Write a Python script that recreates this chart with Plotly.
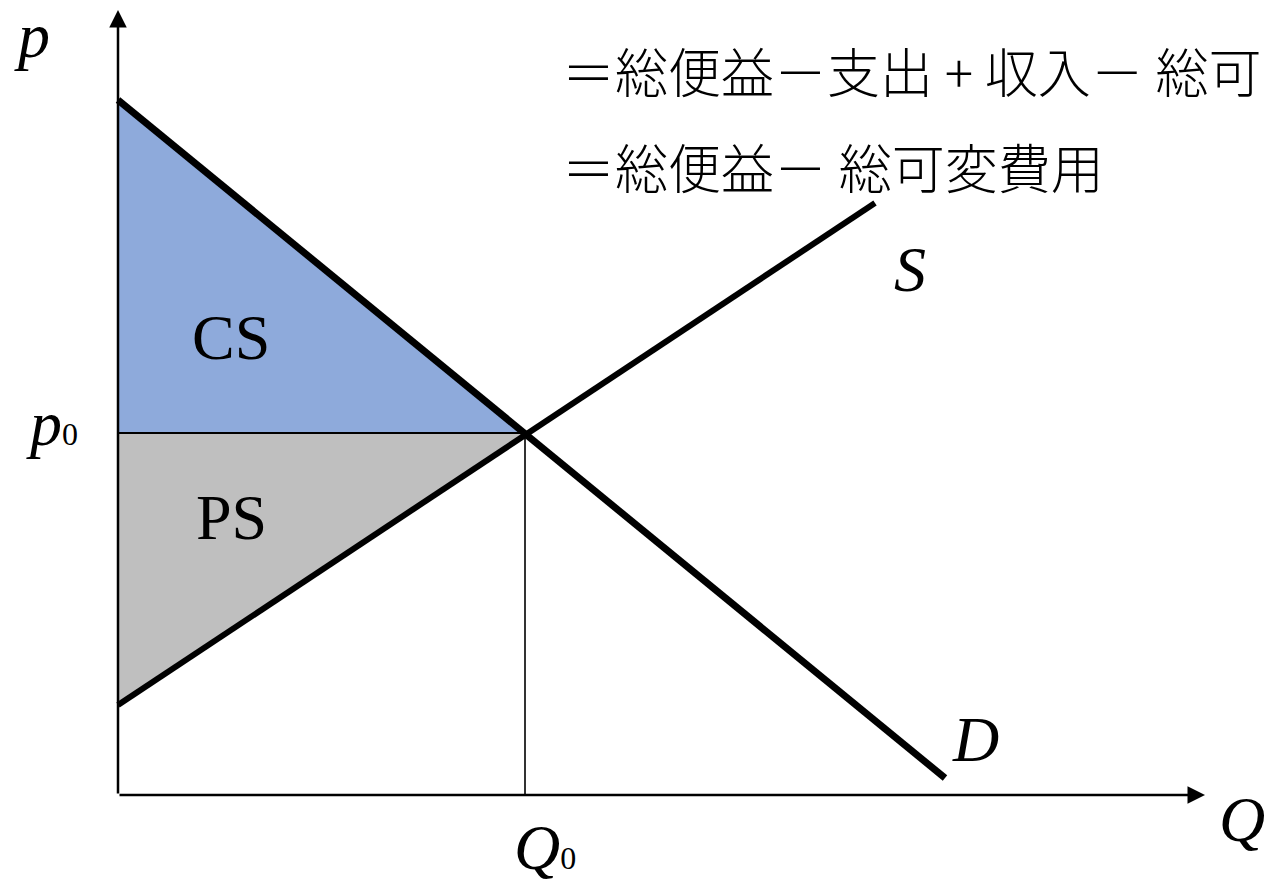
import plotly.graph_objects as go

"""
Supply/demand diagram with consumer surplus (CS) and producer surplus (PS).
One data unit = 100 px on the 1274x882 canvas, origin at the axes corner.
"""

# demand and supply curves (Q, p)
demand_q = [0.0, 8.27]
demand_p = [6.95, 0.17]
supply_q = [0.0, 7.57]
supply_p = [0.90, 5.92]

# equilibrium
q0 = 4.07
p0 = 3.62

# axis ends
q_max = 10.87
p_max = 7.85

# labels (first line is cut at the right edge in the original)
jp_lines = ["＝総便益－支出 + 収入－ 総可", "＝総便益－ 総可変費用"]

SERIF = "Liberation Serif, Times New Roman, serif"
JP = "Noto Sans CJK JP, sans-serif"


def main():
    fig = go.Figure()

    # CS triangle (blue) and PS triangle (grey)
    fig.add_trace(go.Scatter(
        x=[0, 0, q0, 0], y=[demand_p[0], p0, p0, demand_p[0]],
        fill='toself', fillcolor='#8eaadb', mode='none', hoverinfo='skip'))
    fig.add_trace(go.Scatter(
        x=[0, 0, q0, 0], y=[p0, supply_p[0], p0, p0],
        fill='toself', fillcolor='#bfbfbf', mode='none', hoverinfo='skip'))

    # p0 and Q0 guide lines
    fig.add_trace(go.Scatter(x=[0, q0], y=[p0, p0], mode='lines',
                             line=dict(color='black', width=2)))
    fig.add_trace(go.Scatter(x=[q0, q0], y=[0, p0], mode='lines',
                             line=dict(color='#333333', width=2)))

    # demand and supply
    fig.add_trace(go.Scatter(x=demand_q, y=demand_p, mode='lines',
                             line=dict(color='black', width=7)))
    fig.add_trace(go.Scatter(x=supply_q, y=supply_p, mode='lines',
                             line=dict(color='black', width=6)))

    # axes with arrow heads
    for ax_end in [(0, p_max), (q_max, 0)]:
        fig.add_annotation(x=ax_end[0], y=ax_end[1], ax=0, ay=0,
                           xref='x', yref='y', axref='x', ayref='y',
                           text='', showarrow=True, arrowhead=2,
                           arrowsize=1.4, arrowwidth=2.5, arrowcolor='black')

    def label(txt, x, y, size=64, font=SERIF, anchor='center', weight=400):
        fig.add_annotation(x=x, y=y, xref='x', yref='y', text=txt,
                           showarrow=False, xanchor=anchor, yanchor='middle',
                           font=dict(family=font, size=size, color='black',
                                     weight=weight))

    small0 = "<span style='font-size:32px'>0</span>"
    label('<i>p</i>', -0.86, 7.60)
    label('<i>p</i>' + small0, -0.66, 3.72)
    label('CS', 1.13, 4.58)
    label('PS', 1.13, 2.78)
    label('<i>S</i>', 7.92, 5.26)
    label('<i>D</i>', 8.57, 0.56)
    label('<i>Q</i>' + small0, 4.27, -0.52)
    label('<i>Q</i>', 11.24, -0.24)

    label(jp_lines[0], 4.42, 7.25, size=53, font=JP, anchor='left', weight=300)
    label(jp_lines[1], 4.42, 6.29, size=53, font=JP, anchor='left', weight=300)

    # page body adds an 8px offset, so the ranges are shifted to compensate
    fig.update_layout(
        width=1274, height=882,
        margin=dict(l=0, r=0, t=0, b=0),
        paper_bgcolor='white', plot_bgcolor='white',
        showlegend=False,
        xaxis=dict(range=[-1.10, 11.64], visible=False, fixedrange=True),
        yaxis=dict(range=[-0.95, 7.87], visible=False, fixedrange=True),
    )
    fig.write_html("out.html")
    return fig


main()
